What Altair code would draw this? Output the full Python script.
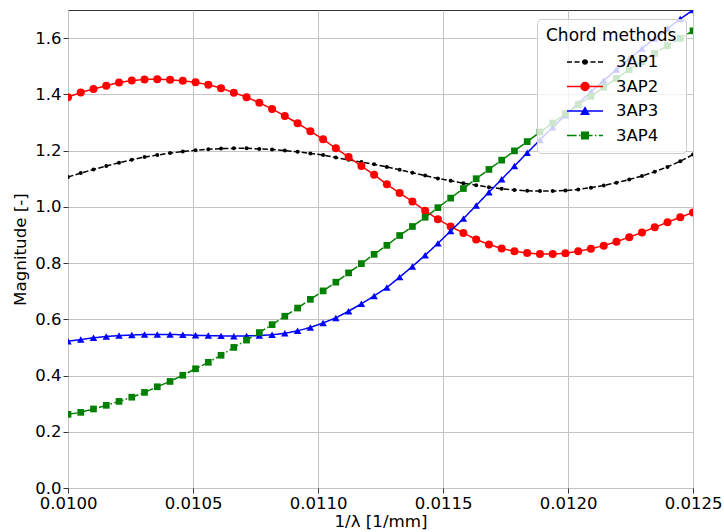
import altair as alt
import pandas as pd

# 50 sample positions on the 1/lambda axis [1/mm]
x_vals = [0.0100000, 0.0100510, 0.0101020, 0.0101531, 0.0102041, 0.0102551, 0.0103061, 0.0103571,
          0.0104082, 0.0104592, 0.0105102, 0.0105612, 0.0106122, 0.0106633, 0.0107143, 0.0107653,
          0.0108163, 0.0108673, 0.0109184, 0.0109694, 0.0110204, 0.0110714, 0.0111224, 0.0111735,
          0.0112245, 0.0112755, 0.0113265, 0.0113776, 0.0114286, 0.0114796, 0.0115306, 0.0115816,
          0.0116327, 0.0116837, 0.0117347, 0.0117857, 0.0118367, 0.0118878, 0.0119388, 0.0119898,
          0.0120408, 0.0120918, 0.0121429, 0.0121939, 0.0122449, 0.0122959, 0.0123469, 0.0123980,
          0.0124490, 0.0125000]

ap1 = [1.106, 1.120, 1.133, 1.145, 1.157, 1.167, 1.177, 1.184, 1.191, 1.197,
       1.201, 1.205, 1.207, 1.208, 1.208, 1.206, 1.204, 1.200, 1.196, 1.190,
       1.184, 1.175, 1.167, 1.159, 1.151, 1.142, 1.132, 1.121, 1.111, 1.101,
       1.093, 1.084, 1.077, 1.070, 1.064, 1.060, 1.057, 1.056, 1.056, 1.058,
       1.062, 1.068, 1.076, 1.086, 1.097, 1.110, 1.125, 1.142, 1.162, 1.186]

ap2 = [1.390, 1.407, 1.419, 1.431, 1.442, 1.449, 1.453, 1.454, 1.452, 1.448,
       1.443, 1.434, 1.422, 1.406, 1.390, 1.370, 1.348, 1.323, 1.297, 1.269,
       1.240, 1.208, 1.177, 1.145, 1.114, 1.080, 1.049, 1.019, 0.986, 0.956,
       0.930, 0.907, 0.884, 0.866, 0.852, 0.842, 0.836, 0.832, 0.832, 0.835,
       0.842, 0.851, 0.862, 0.876, 0.892, 0.909, 0.927, 0.945, 0.963, 0.980]

ap3 = [0.522, 0.528, 0.534, 0.539, 0.542, 0.544, 0.546, 0.546, 0.546, 0.545,
       0.543, 0.542, 0.541, 0.540, 0.541, 0.542, 0.545, 0.550, 0.559, 0.571,
       0.587, 0.605, 0.629, 0.655, 0.683, 0.713, 0.750, 0.788, 0.828, 0.870,
       0.914, 0.958, 1.005, 1.052, 1.098, 1.145, 1.192, 1.238, 1.283, 1.326,
       1.368, 1.409, 1.449, 1.488, 1.526, 1.563, 1.599, 1.634, 1.668, 1.700]

ap4 = [0.262, 0.269, 0.281, 0.294, 0.308, 0.323, 0.340, 0.360, 0.379, 0.401,
       0.424, 0.447, 0.472, 0.500, 0.526, 0.553, 0.581, 0.611, 0.640, 0.671,
       0.701, 0.732, 0.765, 0.798, 0.831, 0.863, 0.898, 0.930, 0.963, 0.997,
       1.031, 1.065, 1.100, 1.133, 1.166, 1.199, 1.232, 1.266, 1.298, 1.331,
       1.363, 1.393, 1.425, 1.457, 1.488, 1.516, 1.546, 1.573, 1.599, 1.626]

series_names = ["3AP1", "3AP2", "3AP3", "3AP4"]
x_ticks = [0.0100, 0.0105, 0.0110, 0.0115, 0.0120, 0.0125]
y_ticks = [0.0, 0.2, 0.4, 0.6, 0.8, 1.0, 1.2, 1.4, 1.6]

colors = ["#000000", "#ff0000", "#0000ff", "#008000"]
dashes = [[5.5, 2.4], [1, 0], [1, 0], [9.6, 2.4, 1.5, 2.4]]
markers = ["circle", "circle", "triangle-up", "square"]
marker_sizes = [16, 64, 56, 45]
# legend symbols: line style + marker in one path (unit = 10 px with symbolSize 400)
legend_paths = [
    "M-1.8,0H-1.3M-1.05,0H-0.55M-0.3,0H0.3M0.55,0H1.05M1.3,0H1.8"
    "M0.2,0A0.2,0.2 0 1 1 -0.2,0A0.2,0.2 0 1 1 0.2,0Z",
    "M-1.8,0H1.8M0.4,0A0.4,0.4 0 1 1 -0.4,0A0.4,0.4 0 1 1 0.4,0Z",
    "M-1.8,0H1.8M0,-0.33L0.37,0.33L-0.37,0.33Z",
    "M-1.8,0H-0.84M-0.6,0H-0.45M-0.21,0H0.75M0.99,0H1.14M1.38,0H1.8"
    "M-0.33,-0.33H0.33V0.33H-0.33Z",
]

rows = []
for name, vals in zip(series_names, [ap1, ap2, ap3, ap4]):
    for xv, yv in zip(x_vals, vals):
        rows.append({"x": xv, "y": yv, "series": name})
df = pd.DataFrame(rows)

FONT = "DejaVu Sans"
xs = alt.Scale(domain=[0.0100, 0.0125], nice=False, zero=False)
ys = alt.Scale(domain=[0.0, 1.7], nice=False, zero=False)
cs = alt.Scale(domain=series_names, range=colors)

X = alt.X("x:Q", scale=xs,
          axis=alt.Axis(values=x_ticks, format=".4f", title="1/λ [1/mm]", labelFlush=False))
Y = alt.Y("y:Q", scale=ys,
          axis=alt.Axis(values=y_ticks, format=".1f", title="Magnitude [-]", labelFlush=False))

leg = alt.Legend(
    title="Chord methods", orient="none", legendX=469, legendY=9,
    fillColor="rgba(255,255,255,0.8)", strokeColor="#cccccc", cornerRadius=4, padding=9,
    titleFont=FONT, titleFontSize=17, titleFontWeight="normal", titleColor="#000000",
    titlePadding=6,
    labelFont=FONT, labelFontSize=16.5, labelColor="#000000", labelOffset=20,
    symbolSize=400, symbolStrokeWidth=1.5, symbolOpacity=1, symbolOffset=28,
    rowPadding=4.5,
)

legend_layer = alt.Chart(df).mark_point(filled=True, opacity=0, strokeWidth=1.5).encode(
    x=X, y=Y,
    color=alt.Color("series:N", scale=cs, legend=leg),
    stroke=alt.Stroke("series:N", scale=cs, legend=leg),
    shape=alt.Shape("series:N", scale=alt.Scale(domain=series_names, range=legend_paths), legend=leg),
)

layers = [legend_layer]
for name, dash, marker, msize in zip(series_names, dashes, markers, marker_sizes):
    base = alt.Chart(df).transform_filter(alt.datum.series == name)
    line = base.mark_line(strokeDash=dash, strokeWidth=1.5, clip=True).encode(
        x=X, y=Y, color=alt.Color("series:N", scale=cs, legend=None))
    pts = base.mark_point(shape=marker, filled=True, size=msize, opacity=1, clip=True).encode(
        x=X, y=Y, color=alt.Color("series:N", scale=cs, legend=None))
    layers += [line, pts]

chart = alt.layer(*layers).properties(
    width=625, height=478,
    autosize=alt.AutoSizeParams(type="none"),
    padding={"left": 68, "top": 10, "right": 31, "bottom": 44},
    background="white",
).configure_view(
    stroke="#333333", strokeWidth=1,
).configure_axis(
    domain=False,
    grid=True, gridColor="#c4c4c4", gridWidth=1,
    ticks=True, tickColor="#333333", tickSize=5, tickWidth=1,
    labelFont=FONT, labelFontSize=16.5, labelColor="#000000", labelPadding=2,
    titleFont=FONT, titleFontSize=16.7, titleFontWeight="normal", titleColor="#000000",
).configure_axisX(
    titlePadding=2,
).configure_axisY(
    titlePadding=5,
)

chart.save("out.html", embed_options={"renderer": "svg", "actions": False})
